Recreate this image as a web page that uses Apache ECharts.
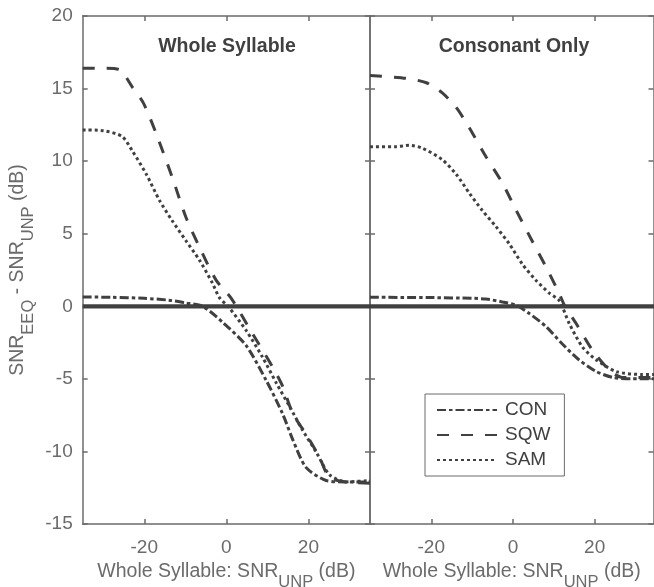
<!DOCTYPE html>
<html>
<head>
<meta charset="utf-8">
<script src="https://cdn.jsdelivr.net/npm/echarts@6/dist/echarts.min.js"></script>
<style>html,body{margin:0;padding:0;background:#fff}#c{width:654px;height:587px}</style>
</head>
<body>
<div id="c"></div>
<script>
// ---- data ----
var xTicks = [-20, 0, 20];
var yTicks = [-15, -10, -5, 0, 5, 10, 15, 20];
var panelTitles = ['Whole Syllable', 'Consonant Only'];
var seriesNames = ['CON', 'SQW', 'SAM'];

// Left panel (Whole Syllable)
var wsConX = [-35, -28, -20, -14, -10, -5.8, -0.9, 4.8, 9.7, 13.7, 16.2, 19.4, 24.3, 29, 35];
var wsConY = [0.64, 0.62, 0.55, 0.42, 0.23, 0, -1.1, -2.7, -5.1, -7.4, -9.2, -11.1, -12.0, -12.1, -12.1];
var wsSqwX = [-35, -30, -26, -22.9, -20.2, -17.1, -13.2, -9.8, -6.6, -2.5, 1.2, 6.4, 11.3, 13.7, 16.2, 19.4, 22.7, 25.1, 29.2, 35];
var wsSqwY = [16.4, 16.4, 16.3, 15.1, 14.0, 11.9, 8.9, 6.1, 4.1, 1.8, 0.55, -1.9, -4.2, -5.5, -7.4, -8.8, -10.4, -11.8, -12.1, -12.2];
var wsSamX = [-35, -30, -25.4, -22.9, -19.5, -16.3, -13.2, -9.8, -6.6, -3.4, -1.7, 0.7, 4.9, 8.8, 12.2, 15.4, 18.5, 22.0, 25.1, 29.2, 35];
var wsSamY = [12.15, 12.1, 11.7, 10.7, 9.1, 7.3, 5.9, 4.5, 3.2, 1.6, 0.6, -0.1, -1.7, -3.5, -5.3, -6.9, -8.5, -10.1, -11.6, -12.1, -12.0];

// Right panel (Consonant Only)
var coConX = [-35, -20, -10, -6.6, -2.6, 0.8, 4.0, 8.1, 12.1, 16.2, 20.4, 24.4, 29, 35];
var coConY = [0.62, 0.6, 0.55, 0.5, 0.3, 0.07, -0.5, -1.4, -2.6, -3.7, -4.5, -4.9, -5.0, -5.0];
var coSqwX = [-35, -26.1, -21.2, -17.3, -13.9, -10.7, -6.6, -2.6, 0.8, 4.7, 8.1, 11.3, 12.6, 15.5, 19.4, 23.6, 26.8, 31.7, 35];
var coSqwY = [15.9, 15.7, 15.4, 14.7, 13.7, 12.3, 10.3, 8.5, 6.6, 4.5, 2.7, 0.9, 0.07, -1.2, -3.0, -4.4, -4.9, -4.9, -4.9];
var coSamX = [-35, -28.6, -25.4, -22.2, -17.3, -13.9, -10.7, -7.5, -4.2, -0.9, 2.3, 5.6, 8.9, 11.3, 13.8, 17.0, 20.4, 25.3, 31.7, 35];
var coSamY = [11.0, 11.0, 11.1, 10.9, 10.1, 9.1, 7.8, 6.6, 5.5, 4.3, 2.9, 1.8, 0.9, 0.4, -1.2, -2.8, -3.7, -4.5, -4.7, -4.7];

var zeroX = [-35, 35];
var zeroY = [0, 0];

// ---- helpers ----
function pairs(xs, ys) { return xs.map(function (x, i) { return [x, ys[i]]; }); }
var ink = '#404040';
var axisGray = '#6b6b6b';
var textGray = '#6b6b6b';
var font = 'Liberation Sans, Arial, Helvetica, sans-serif';
var dashStyles = {
  CON: [9, 3, 3.5, 3],
  SQW: [12, 12],
  SAM: [3, 3]
};

var xName = '{a|Whole Syllable: SNR}{s|UNP}{a| (dB)}';
var nameRich = {
  a: { fontSize: 19.5, color: textGray, fontFamily: font, lineHeight: 29, verticalAlign: 'top' },
  s: { fontSize: 16.5, color: textGray, fontFamily: font, lineHeight: 29, verticalAlign: 'bottom' }
};
var axLine = { show: true, onZero: false, lineStyle: { color: axisGray, width: 1.5 } };
var tickFont = 19;

function xAxes(gi) {
  var mx = gi === 0 ? 35 : 34.4;
  return [
    {
      type: 'value', gridIndex: gi, position: 'bottom', min: -35, max: mx,
      axisLine: axLine,
      axisTick: { show: true, inside: true, length: 5, customValues: xTicks, lineStyle: { color: axisGray, width: 1.5 } },
      axisLabel: { show: true, customValues: xTicks, margin: 14, fontSize: tickFont, color: textGray, fontFamily: font },
      splitLine: { show: false },
      name: xName, nameLocation: 'middle', nameGap: 36,
      nameTextStyle: { rich: nameRich }
    },
    {
      type: 'value', gridIndex: gi, position: 'top', min: -35, max: mx,
      axisLine: axLine,
      axisTick: { show: true, inside: true, length: 5, customValues: xTicks, lineStyle: { color: axisGray, width: 1.5 } },
      axisLabel: { show: false },
      splitLine: { show: false }
    }
  ];
}
function yAxes(gi) {
  var left = {
    type: 'value', gridIndex: gi, position: 'left', min: -15, max: 20, interval: 5,
    axisLine: axLine,
    axisTick: { show: true, inside: true, length: 5, lineStyle: { color: axisGray, width: 1.5 } },
    axisLabel: { show: gi === 0, margin: 10, fontSize: tickFont, color: textGray, fontFamily: font },
    splitLine: { show: false }
  };
  if (gi === 0) {
    left.name = '{a|SNR}{s|EEQ}{a| - SNR}{s|UNP}{a| (dB)}';
    left.nameLocation = 'middle';
    left.nameRotate = 90;
    left.nameGap = 46;
    left.nameTextStyle = { rich: nameRich };
  }
  var right = {
    type: 'value', gridIndex: gi, position: 'right', min: -15, max: 20, interval: 5,
    axisLine: axLine,
    axisTick: { show: true, inside: true, length: 5, lineStyle: { color: axisGray, width: 1.5 } },
    axisLabel: { show: false },
    splitLine: { show: false }
  };
  return [left, right];
}

function curve(name, gi, xs, ys) {
  return {
    name: name, type: 'line', xAxisIndex: gi * 2, yAxisIndex: gi * 2,
    data: pairs(xs, ys), showSymbol: false, symbol: 'none', smooth: 0.25,
    lineStyle: { color: ink, width: 3, type: dashStyles[name], cap: 'butt' },
    itemStyle: { color: ink },
    z: 3, silent: true, animation: false
  };
}
function zeroLine(gi) {
  return {
    name: 'zero' + gi, type: 'line', xAxisIndex: gi * 2, yAxisIndex: gi * 2,
    data: pairs(zeroX, zeroY), showSymbol: false, symbol: 'none',
    lineStyle: { color: ink, width: 4.3, type: 'solid' }, z: 4, silent: true, animation: false
  };
}

var option = {
  backgroundColor: '#fff',
  animation: false,
  grid: [
    { left: 82.7, top: 16, width: 287.3, height: 508, outerBoundsMode: 'none', containLabel: false },
    { left: 370, top: 16, width: 283.5, height: 508, outerBoundsMode: 'none', containLabel: false }
  ],
  xAxis: xAxes(0).concat(xAxes(1)),
  yAxis: yAxes(0).concat(yAxes(1)),
  legend: {
    data: seriesNames, orient: 'vertical', left: 425, top: 394,
    itemWidth: 60, itemHeight: 14, itemGap: 5,
    padding: [6, 14, 6, 11],
    borderColor: axisGray, borderWidth: 1, backgroundColor: '#fff',
    itemStyle: { opacity: 0 },
    textStyle: { fontSize: tickFont, color: ink, fontFamily: font, lineHeight: 20, padding: [0, 0, 0, 3] },
    selectedMode: false
  },
  graphic: [
    { type: 'text', x: 227, y: 47, style: { text: panelTitles[0], fontSize: 19.5, fontWeight: 'bold', fill: ink, fontFamily: font, align: 'center', verticalAlign: 'middle' } },
    { type: 'text', x: 514, y: 47, style: { text: panelTitles[1], fontSize: 19.5, fontWeight: 'bold', fill: ink, fontFamily: font, align: 'center', verticalAlign: 'middle' } }
  ],
  series: [
    curve('CON', 0, wsConX, wsConY),
    curve('SQW', 0, wsSqwX, wsSqwY),
    curve('SAM', 0, wsSamX, wsSamY),
    curve('CON', 1, coConX, coConY),
    curve('SQW', 1, coSqwX, coSqwY),
    curve('SAM', 1, coSamX, coSamY),
    zeroLine(0),
    zeroLine(1)
  ]
};

var chart = echarts.init(document.getElementById('c'), null, { renderer: 'canvas' });
chart.setOption(option);
</script>
</body>
</html>
